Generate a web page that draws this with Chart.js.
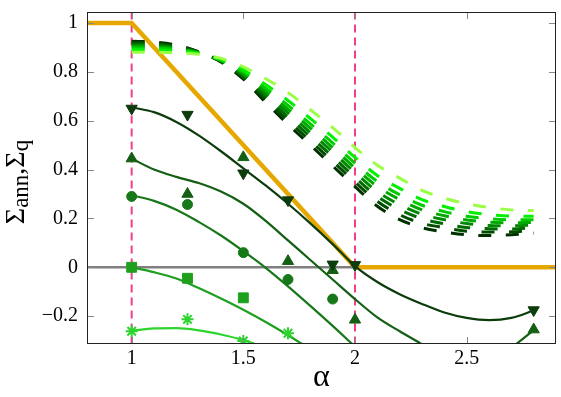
<!DOCTYPE html>
<html>
<head>
<meta charset="utf-8">
<script src="https://cdn.jsdelivr.net/npm/chart.js@4.4.1/dist/chart.umd.min.js"></script>
<style>
  html, body { margin: 0; padding: 0; background: #fff; }
  #wrap { width: 561px; height: 397px; }
</style>
</head>
<body>
<div id="wrap"><canvas id="chart"></canvas></div>
<script>
// sample positions along alpha for the drawn curves
const gridX = [1, 1.1, 1.2, 1.3, 1.4, 1.5, 1.6, 1.7, 1.8, 1.9, 2, 2.1, 2.2, 2.3, 2.4, 2.5, 2.6, 2.7, 2.8];

// dashed family (darkest -> lightest)
const fan0 = [0.925, 0.922, 0.91, 0.882, 0.84, 0.77, 0.675, 0.585, 0.5, 0.415, 0.33, 0.25, 0.195, 0.162, 0.145, 0.133, 0.13, 0.133, 0.14];
const fan1 = [0.92, 0.917, 0.906, 0.881, 0.842, 0.776, 0.687, 0.601, 0.517, 0.434, 0.349, 0.27, 0.215, 0.18, 0.162, 0.148, 0.144, 0.145, 0.151];
const fan2 = [0.914, 0.912, 0.902, 0.88, 0.844, 0.782, 0.698, 0.616, 0.535, 0.453, 0.368, 0.29, 0.236, 0.199, 0.178, 0.163, 0.158, 0.157, 0.162];
const fan3 = [0.909, 0.907, 0.898, 0.878, 0.845, 0.788, 0.71, 0.632, 0.552, 0.472, 0.388, 0.31, 0.256, 0.217, 0.195, 0.179, 0.171, 0.17, 0.173];
const fan4 = [0.903, 0.902, 0.895, 0.877, 0.847, 0.794, 0.722, 0.647, 0.57, 0.49, 0.407, 0.331, 0.277, 0.235, 0.211, 0.194, 0.185, 0.182, 0.184];
const fan5 = [0.898, 0.897, 0.891, 0.876, 0.849, 0.8, 0.733, 0.663, 0.587, 0.509, 0.426, 0.351, 0.297, 0.254, 0.228, 0.209, 0.199, 0.194, 0.195];
const fan6 = [0.891, 0.89, 0.886, 0.875, 0.851, 0.808, 0.748, 0.683, 0.609, 0.533, 0.45, 0.376, 0.323, 0.277, 0.249, 0.228, 0.216, 0.21, 0.209];
const fan7 = [0.88, 0.88, 0.878, 0.872, 0.855, 0.82, 0.772, 0.715, 0.645, 0.572, 0.49, 0.418, 0.365, 0.315, 0.283, 0.26, 0.245, 0.235, 0.232];
const fanColors = ['#003000', '#004d00', '#006a00', '#008800', '#00a800', '#00cc00', '#00f000', '#99ff44'];

// solid fitted curves
const curveA = [0.655, 0.635, 0.595, 0.54, 0.475, 0.405, 0.335, 0.26, 0.18, 0.095, 0.005, -0.06, -0.11, -0.15, -0.185, -0.207, -0.216, -0.207, -0.177];
const curveB = [0.445, 0.4, 0.37, 0.345, 0.31, 0.26, 0.19, 0.11, 0.03, -0.05, -0.13, -0.205, -0.262, -0.315, -0.37, -0.4, -0.4, -0.33, -0.257];
const curveC = [0.295, 0.272, 0.236, 0.186, 0.13, 0.066, -0.002, -0.078, -0.158, -0.24, -0.325];
const curveD = [0, -0.02, -0.046, -0.085, -0.128, -0.174, -0.224, -0.278, -0.335];
const curveE = [-0.26, -0.25, -0.249, -0.258, -0.275, -0.298, -0.33];

// symbols
const markX = [1, 1.25, 1.5, 1.7, 1.9, 2, 2.8];
const downTri = [0.65, 0.625, 0.385, 0.275, 0.012, 0.01, -0.175];
const upTri = [0.445, 0.3, 0.45, 0.025, -0.012, -0.215, -0.255];
const circles = [0.29, 0.257, 0.06, -0.05, -0.13];
const squares = [0, -0.045, -0.125];
const stars = [-0.262, -0.213, -0.302, -0.27];

// reference lines
const classX = [0.8, 1, 2, 2.9];
const classY = [1, 1, 0, 0];
const zeroX = [0.8, 2.9];
const zeroY = [0, 0];
const vlines = [1, 2];

const colA = '#0c3c0c', colB = '#145f14', colC = '#17781a', colD = '#1ea01e', colE = '#2dd42d';
const serif = '"Liberation Serif", "Times New Roman", Times, "DejaVu Serif", serif';

const pts = (xs, ys) => ys.map((y, i) => ({x: xs[i], y: y}));

const datasets = [];
datasets.push({data: pts(zeroX, zeroY), borderColor: '#7f7f7f', borderWidth: 2.5, pointRadius: 0, order: 100});
vlines.forEach(v => datasets.push({
  data: [{x: v, y: 1.1}, {x: v, y: -0.4}], borderColor: '#f0408a', borderWidth: 2,
  borderDash: [8, 5], pointRadius: 0, order: 90
}));
datasets.push({data: pts(classX, classY), borderColor: '#e6a800', borderWidth: 4.5, borderJoinStyle: 'miter', pointRadius: 0, order: 80});
[fan0, fan1, fan2, fan3, fan4, fan5, fan6, fan7].forEach((f, i) => datasets.push({
  data: pts(gridX, f), borderColor: fanColors[i], borderWidth: 3, borderDash: [13, 14.5],
  borderCapStyle: 'butt', cubicInterpolationMode: 'monotone', pointRadius: 0, order: 60 - i
}));
[[curveA, colA], [curveB, colB], [curveC, colC], [curveD, colD], [curveE, colE]].forEach(([c, col]) => datasets.push({
  data: pts(gridX, c), borderColor: col, borderWidth: 2.2, cubicInterpolationMode: 'monotone', pointRadius: 0, order: 40
}));
const sym = (ys, col, style, r, extra) => Object.assign({
  data: pts(markX, ys), showLine: false, pointStyle: style, pointRadius: r,
  backgroundColor: col, borderColor: col, pointBorderWidth: 1, order: 10
}, extra || {});
datasets.push(sym(downTri, colA, 'triangle', 6.5, {pointRotation: 180}));
datasets.push(sym(upTri, colB, 'triangle', 6.5));
datasets.push(sym(circles, colC, 'circle', 5));
datasets.push(sym(squares, colD, 'rect', 7));
datasets.push(sym(stars, colE, 'star', 6, {pointBorderWidth: 2}));
datasets.forEach(d => { d.clip = 0; });

const frame = {
  id: 'frame',
  afterDatasetsDraw(chart) {
    const {ctx, chartArea: a, scales: {x, y}} = chart;
    ctx.save();
    ctx.lineWidth = 1;
    ctx.strokeStyle = '#888';
    ctx.beginPath();
    x.ticks.forEach(t => {
      const px = Math.round(x.getPixelForValue(t.value)) + 0.5;
      ctx.moveTo(px, a.bottom); ctx.lineTo(px, a.bottom - 7);
      ctx.moveTo(px, a.top); ctx.lineTo(px, a.top + 7);
    });
    y.ticks.forEach(t => {
      const py = Math.round(y.getPixelForValue(t.value)) + 0.5;
      ctx.moveTo(a.left, py); ctx.lineTo(a.left + 7, py);
      ctx.moveTo(a.right, py); ctx.lineTo(a.right - 7, py);
    });
    ctx.stroke();
    ctx.strokeStyle = '#222';
    ctx.strokeRect(Math.round(a.left) + 0.5, Math.round(a.top) + 0.5, Math.round(a.width) - 1, Math.round(a.height) - 1);
    ctx.restore();
  },
  afterDraw(chart) {
    // y-axis title with subscripts
    const {ctx, chartArea: a} = chart;
    const big = '28px ' + serif, small = '23px ' + serif;
    const parts = [['Σ', big, 0], ['ann', small, 4], [',Σ', big, 0], ['q', small, 4]];
    ctx.save();
    let total = 0;
    parts.forEach(p => { ctx.font = p[1]; total += ctx.measureText(p[0]).width; });
    ctx.translate(24, (a.top + a.bottom) / 2 + 4);
    ctx.rotate(-Math.PI / 2);
    ctx.fillStyle = '#000';
    ctx.textBaseline = 'alphabetic';
    let u = -total / 2;
    parts.forEach(p => {
      ctx.font = p[1];
      ctx.fillText(p[0], u, p[2]);
      u += ctx.measureText(p[0]).width;
    });
    ctx.restore();
  }
};

new Chart(document.getElementById('chart'), {
  type: 'line',
  data: {datasets: datasets},
  options: {
    responsive: true,
    maintainAspectRatio: false,
    animation: false,
    layout: {autoPadding: false, padding: {top: 12, right: 5, left: 0, bottom: 0}},
    plugins: {legend: {display: false}, tooltip: {enabled: false}},
    scales: {
      x: {
        type: 'linear', min: 0.8, max: 2.9,
        afterFit(s) { s.height = 53; s.paddingLeft = 0; s.paddingRight = 0; },
        grid: {display: false, drawTicks: false},
        border: {display: false},
        ticks: {stepSize: 0.5, includeBounds: false, padding: 3, color: '#000',
          font: {family: serif, size: 20}, callback: v => String(v)},
        title: {display: true, text: 'α', color: '#000', font: {family: serif, size: 32}, padding: 0}
      },
      y: {
        type: 'linear', min: -0.314, max: 1.045,
        afterFit(s) { s.width = 87; s.paddingTop = 0; s.paddingBottom = 0; },
        grid: {display: false, drawTicks: false},
        border: {display: false},
        ticks: {stepSize: 0.2, includeBounds: false, padding: 9, color: '#000',
          font: {family: serif, size: 20}, callback: v => v < 0 ? '\u2212' + Math.abs(v) : String(v)}
      }
    }
  },
  plugins: [frame]
});
</script>
</body>
</html>
